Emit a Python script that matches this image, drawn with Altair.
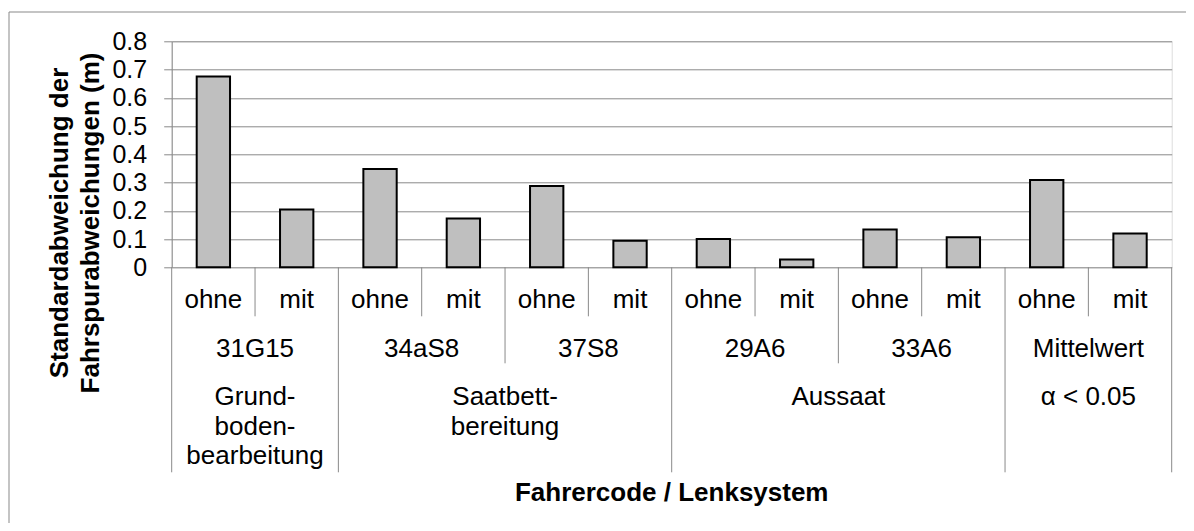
import altair as alt
import pandas as pd

# ---- data ----
systems = ["ohne", "mit"]
drivers = ["31G15", "34aS8", "37S8", "29A6", "33A6", "Mittelwert"]
phases = [["Grund-", "boden-", "bearbeitung"], ["Saatbett-", "bereitung"], ["Aussaat"], ["α < 0.05"]]
drivers_per_phase = [1, 2, 2, 1]
values = [0.675, 0.205, 0.348, 0.173, 0.288, 0.094, 0.100, 0.028, 0.134, 0.106, 0.309, 0.120]
y_ticks = [0, 0.1, 0.2, 0.3, 0.4, 0.5, 0.6, 0.7, 0.8]
y_title = ["Standardabweichung der", "Fahrspurabweichungen (m)"]
x_title = "Fahrercode / Lenksystem"

FONT = "Liberation Sans"
GRAY = "#898989"
H = 226  # plot height in px

# ---- tables built from the arrays ----
bars = pd.DataFrame({
    "slot": list(range(len(values))),
    "system": [systems[i % 2] for i in range(len(values))],
    "driver": [drivers[i // 2] for i in range(len(values))],
    "value": values,
})
bars["x0"] = bars["slot"] + 0.3
bars["x1"] = bars["slot"] + 0.7
bars["xc"] = bars["slot"] + 0.5

drv = pd.DataFrame({"driver": drivers, "xc": [2 * k + 1 for k in range(len(drivers))]})

ph_rows, start = [], 0
bounds_phase = [0]
for lines, n in zip(phases, drivers_per_phase):
    ph_rows.append({"label": "\n".join(lines), "xc": start + n})
    start += 2 * n
    bounds_phase.append(start)
ph = pd.DataFrame(ph_rows)

sep1 = pd.DataFrame({"b": [2 * k + 1 for k in range(len(drivers))]})
sep2 = pd.DataFrame({"b": [b for b in range(0, 2 * len(drivers) + 1, 2) if b not in bounds_phase]})
sep3 = pd.DataFrame({"b": bounds_phase})

xs = alt.Scale(domain=[0, 2 * len(drivers)], nice=False, zero=False)
ys = alt.Scale(domain=[0, 0.8], nice=False)

base_bars = alt.Chart(bars).mark_rect(
    fill="#BFBFBF", stroke="black", strokeWidth=2
).encode(
    x=alt.X("x0:Q", scale=xs, axis=None),
    x2="x1:Q",
    y=alt.Y("value:Q", scale=ys, axis=alt.Axis(
        values=y_ticks, format=".1~f", title=None,
        grid=True, gridColor=GRAY, gridWidth=1,
        domain=True, domainColor=GRAY, domainWidth=1,
        ticks=True, tickColor=GRAY, tickSize=8, tickWidth=1,
        labelFont=FONT, labelFontSize=25, labelColor="black", labelPadding=17,
    )),
    y2=alt.datum(0),
)

def rules(df, length):
    return alt.Chart(df).mark_rule(color=GRAY, strokeWidth=1).encode(
        x=alt.X("b:Q", scale=xs, axis=None),
        y=alt.value(H),
        y2=alt.value(H + length),
    )

r1 = rules(sep1, 49)
r2 = rules(sep2, 96)
r3 = rules(sep3, 205)

t1 = alt.Chart(bars).mark_text(font=FONT, fontSize=26, color="black", align="center", baseline="alphabetic").encode(
    x=alt.X("xc:Q", scale=xs, axis=None), y=alt.value(H + 41), text="system:N")
t2 = alt.Chart(drv).mark_text(font=FONT, fontSize=26, color="black", align="center", baseline="alphabetic").encode(
    x=alt.X("xc:Q", scale=xs, axis=None), y=alt.value(H + 89.4), text="driver:N")
t3 = alt.Chart(ph).mark_text(font=FONT, fontSize=26, color="black", align="center", baseline="alphabetic",
                             lineBreak="\n", lineHeight=29.5).encode(
    x=alt.X("xc:Q", scale=xs, axis=None), y=alt.value(H + 137.7), text="label:N")

xt = alt.Chart(pd.DataFrame({"t": [x_title], "xc": [len(drivers)]})).mark_text(
    font=FONT, fontSize=26, fontWeight="bold", color="black", align="center", baseline="alphabetic"
).encode(x=alt.X("xc:Q", scale=xs, axis=None), y=alt.value(H + 233.4), text="t:N")

yt = alt.Chart(pd.DataFrame({"t": ["\n".join(y_title)]})).mark_text(
    font=FONT, fontSize=26, fontWeight="bold", color="black", align="center", baseline="alphabetic",
    angle=270, lineBreak="\n", lineHeight=30.7
).encode(x=alt.value(-103.4), y=alt.value(181.7), text="t:N")

frame = alt.Chart(pd.DataFrame({"a": [0]})).mark_rect(
    fill="white", fillOpacity=0, stroke=GRAY, strokeWidth=1
).encode(x=alt.value(-162.7), x2=alt.value(1100), y=alt.value(-29.3), y2=alt.value(700))

chart = alt.layer(frame, base_bars, r1, r2, r3, t1, t2, t3, xt, yt).properties(
    width=1000, height=H,
    autosize=alt.AutoSizeParams(type="none"),
    padding={"left": 163.7, "top": 33.3, "right": 14.3, "bottom": 255.7},
).configure_view(stroke=None).configure(background="white")

chart.save("out.html", embed_options={"renderer": "svg", "actions": False})
